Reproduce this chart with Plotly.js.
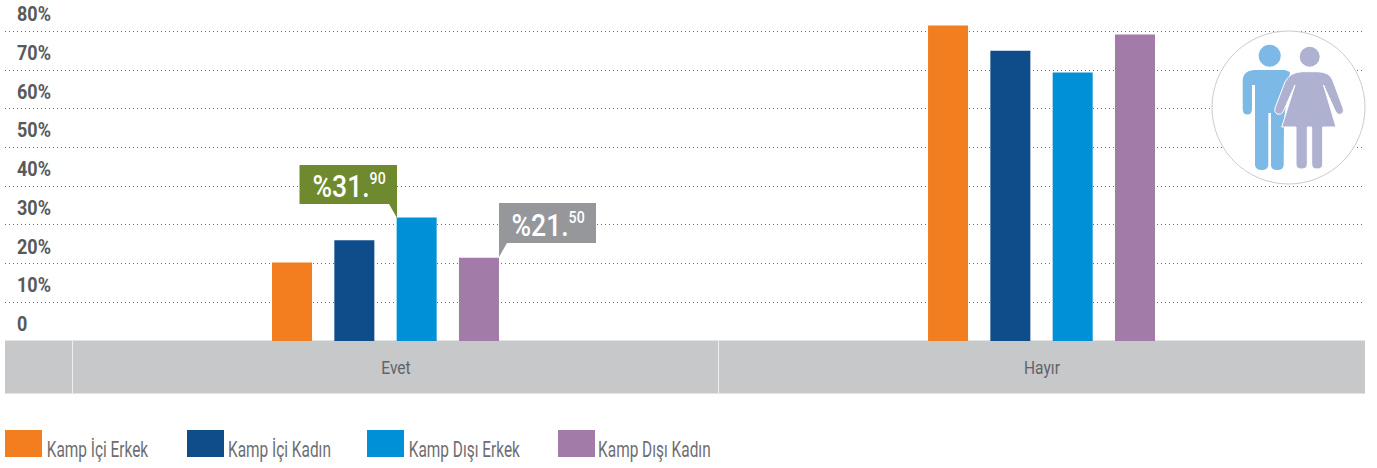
<!DOCTYPE html>
<html><head><meta charset="utf-8">
<script src="https://cdn.plot.ly/plotly-3.0.1.min.js"></script>
<style>html,body{margin:0;padding:0;background:#fff}#c{width:1377px;height:468px}</style>
</head><body><div id="c"></div>
<script>
const categories = ["Evet", "Hayır"];
const seriesNames = ["Kamp İçi Erkek", "Kamp İçi Kadın", "Kamp Dışı Erkek", "Kamp Dışı Kadın"];
const kampIciErkek = [20.3, 81.5];
const kampIciKadin = [26, 75];
const kampDisiErkek = [31.9, 69.4];
const kampDisiKadin = [21.5, 79.2];
const seriesColors = ["#f37e20", "#0e4c8a", "#0090d7", "#a37ba8"];
const tickValues = [0, 10, 20, 30, 40, 50, 60, 70, 80];
const tickLabels = ["0", "10%", "20%", "30%", "40%", "50%", "60%", "70%", "80%"];
const calloutBig = ["%31.", "%21."];
const calloutSmall = ["90", "50"];

const W = 1377, H = 468, ML = 5, MR = 12, MT = 0, MB = 127;
const FONT = 'Roboto,"Liberation Sans",sans-serif';
const PW = W - ML - MR, PH = H - MT - MB;
const px = x => (x - ML) / PW, py = y => 1 - (y - MT) / PH;
const P = s => s.replace(/(-?[\d.]+) (-?[\d.]+)/g, (m, a, b) => px(+a) + ' ' + py(+b));
const rect = (x0, y0, x1, y1, fill, layer) => ({type:'rect', xref:'paper', yref:'paper', x0:px(x0), x1:px(x1), y0:py(y0), y1:py(y1), fillcolor:fill, line:{width:0}, layer:layer||'above'});
const path = (d, fill, line, lw) => ({type:'path', xref:'paper', yref:'paper', path:P(d), fillcolor:fill, line:{color:line||fill, width:lw===undefined?0:lw}, layer:'above'});
const circle = (cx, cy, r, fill, line, lw) => ({type:'circle', xref:'paper', yref:'paper', x0:px(cx-r), x1:px(cx+r), y0:py(cy+r), y1:py(cy-r), fillcolor:fill, line:{color:line||fill, width:lw||0}, layer:'above'});

const values = [kampIciErkek, kampIciKadin, kampDisiErkek, kampDisiKadin];
const traces = seriesNames.map((n, i) => ({type:'bar', name:n, x:categories, y:values[i], marker:{color:seriesColors[i], line:{width:0}}, hoverinfo:'x+y+name'}));

const legendX = [5, 187, 367, 558];
const legendTextCenter = [98, 279, 464.5, 654.5];
const bandLabelX = [395.5, 1041.5];

const shapes = [
  rect(5, 340.5, 1365, 393.5, '#c7c8ca', 'below'),
  rect(72, 340.5, 73, 393.5, '#eeeeee', 'below'),
  rect(718, 340.5, 719, 393.5, '#eeeeee', 'below'),
  path('M 299.5 165 L 397 165 L 397 218 L 389 204 L 299.5 204 Z', '#6f8a2e'),
  path('M 499 203 L 596 203 L 596 243 L 507 243 L 499 257 Z', '#96979b'),
  circle(1288.5, 107.5, 76.5, '#ffffff', '#cccccc', 1),
  circle(1269.7, 55.7, 11, '#7db9e6'),
  path('M 1254 70 L 1285 70 L 1290 72 L 1284 120 L 1283.7 165 Q 1283.5 170 1277.3 170 Q 1271 170 1271 165 L 1271 113 L 1268.3 113 L 1268.3 165 Q 1268 170 1261.7 170 Q 1255.5 170 1255 165 L 1255 85 L 1252 85 L 1252 109 Q 1252 114.5 1247.3 114.5 Q 1242.7 114.5 1242.7 109 L 1242.7 81 Q 1242.7 71 1254 70 Z', '#7db9e6'),
  circle(1309.7, 56.7, 10, '#aeb1cf'),
  path('M 1302 71.7 L 1318 71.7 Q 1330 72 1333 81 L 1343 108 Q 1344.5 113 1340 114.5 Q 1337 115 1335.3 111 L 1323.5 85 L 1336 127 L 1322.7 127 L 1322.7 164 Q 1322.7 169 1317 169 Q 1311.7 169 1311.7 164 L 1311.7 127 L 1307.3 127 L 1307.3 164 Q 1307.3 169 1301.7 169 Q 1296 169 1296 164 L 1296 127 L 1281.7 127 L 1295 85 L 1283 112 Q 1281 115.5 1277 114 Q 1273.5 112 1275 108 L 1285 82 Q 1290 72 1302 71.7 Z', '#aeb1cf', '#ffffff', 1)
];
legendX.forEach((x, i) => shapes.push(rect(x, 430, x + 37, 457, seriesColors[i])));

const note = (x, y, text, font, cls) => ({xref:'paper', yref:'paper', x:px(x), y:py(y), text, showarrow:false, xanchor:'center', yanchor:'middle', borderpad:0, font, name:cls});
const annotations = [];
[349, 548].forEach((x, i) => annotations.push(note(x, [186, 225][i],
  calloutBig[i] + '<sup><span style="font-size:17px">' + calloutSmall[i] + '</span></sup>',
  {family:FONT, size:32, color:'#ffffff', weight:500})));
seriesNames.forEach((n, i) => annotations.push(note(legendTextCenter[i], 449, n, {family:FONT, size:22, color:'#6d6e71', weight:400})));
categories.forEach((c, i) => annotations.push(note(bandLabelX[i], 367, c, {family:FONT, size:19, color:'#626366', weight:400})));

const layout = {
  width:W, height:H, autosize:false, showlegend:false,
  margin:{l:ML, r:MR, t:MT, b:MB, pad:0},
  paper_bgcolor:'#ffffff', plot_bgcolor:'rgba(0,0,0,0)',
  barmode:'group', bargap:0.62, bargroupgap:0.358,
  font:{family:FONT},
  xaxis:{type:'category', categoryorder:'array', categoryarray:categories, range:[-0.58, 1.4931], fixedrange:true,
    showgrid:false, zeroline:false, showline:false, ticks:'', showticklabels:false},
  yaxis:{range:[0, 88.1], fixedrange:true, tickmode:'array', tickvals:tickValues, ticktext:tickLabels,
    showgrid:true, gridcolor:'#6a6a6a', gridwidth:1, griddash:'1px,3px', zeroline:false, showline:false, ticks:'',
    ticklabelposition:'inside', ticklabelshift:-17, ticklabelstandoff:9,
    tickfont:{family:FONT, size:20, color:'#58595b', weight:700}},
  shapes, annotations
};

// The reference face is a condensed one: squeeze the real text to its width.
function condense(sel, factorOf) {
  document.querySelectorAll(sel).forEach((t, i) => {
    const len = t.getComputedTextLength();
    if (len > 0) { t.setAttribute('textLength', len * factorOf(i)); t.setAttribute('lengthAdjust', 'spacingAndGlyphs'); }
  });
}
Plotly.newPlot('c', traces, layout, {displayModeBar:false, responsive:false}).then(() => {
  condense('.ytick text', () => 0.9);
  condense('.annotation-text', i => i < 2 ? 0.83 : i < 6 ? 0.70 : 0.82);
});
</script></body></html>
